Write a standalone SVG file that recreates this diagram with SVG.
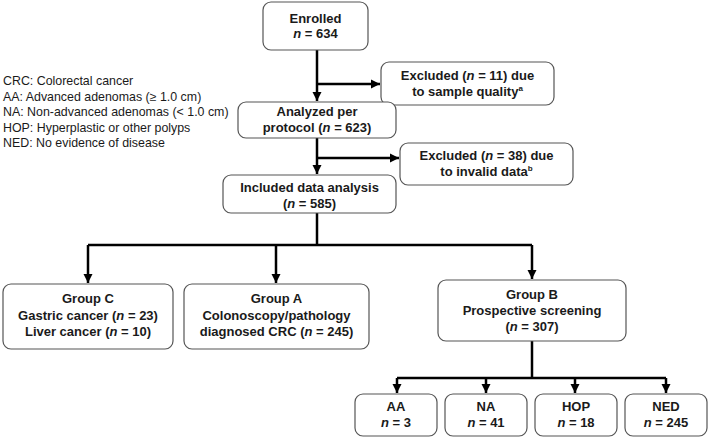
<svg xmlns="http://www.w3.org/2000/svg" width="709" height="438" viewBox="0 0 709 438">
<defs>
<marker id="ah" markerWidth="10" markerHeight="10" refX="9" refY="5" orient="auto" markerUnits="userSpaceOnUse">
<path d="M0,0.5 L9,5 L0,9.5 Z" fill="#000"/>
</marker>
<style>
.box{fill:#fff;stroke:#555;stroke-width:1.2}
.t{font-family:"Liberation Sans",Arial,sans-serif;font-size:13px;font-weight:bold;fill:#1a1a1a;text-anchor:middle}
.lg{font-family:"Liberation Sans",Arial,sans-serif;font-size:12.4px;fill:#1a1a1a}
.c{fill:none;stroke:#000;stroke-width:2.5}
.sup{font-size:8px}
</style>
</defs>
<rect width="709" height="438" fill="#fff"/>
<g id="legend">
<text class="lg" x="3" y="85">CRC: Colorectal cancer</text>
<text class="lg" x="3" y="100.5">AA: Advanced adenomas (≥ 1.0 cm)</text>
<text class="lg" x="3" y="116">NA: Non-advanced adenomas (&lt; 1.0 cm)</text>
<text class="lg" x="3" y="131.5">HOP: Hyperplastic or other polyps</text>
<text class="lg" x="3" y="147">NED: No evidence of disease</text>
</g>
<g id="connectors">
<path class="c" d="M317,50 V101" marker-end="url(#ah)"/>
<path class="c" d="M317,84 H380" marker-end="url(#ah)"/>
<path class="c" d="M317,138 V174" marker-end="url(#ah)"/>
<path class="c" d="M317,158 H399" marker-end="url(#ah)"/>
<path class="c" d="M317,213 V245"/>
<path class="c" d="M88,245 H532"/>
<path class="c" d="M88,245 V283" marker-end="url(#ah)"/>
<path class="c" d="M276,245 V283" marker-end="url(#ah)"/>
<path class="c" d="M532,245 V279" marker-end="url(#ah)"/>
<path class="c" d="M532,341 V378"/>
<path class="c" d="M397,378 H666"/>
<path class="c" d="M397,378 V393" marker-end="url(#ah)"/>
<path class="c" d="M486,378 V393" marker-end="url(#ah)"/>
<path class="c" d="M575,378 V393" marker-end="url(#ah)"/>
<path class="c" d="M666,378 V393" marker-end="url(#ah)"/>
</g>
<g id="enrolled">
<rect class="box" x="263" y="2" width="105" height="48" rx="8"/>
<text class="t" x="315.5" y="23">Enrolled</text>
<text class="t" x="315.5" y="38"><tspan font-style="italic">n</tspan> = 634</text>
</g>
<g id="excluded1">
<rect class="box" x="381" y="62" width="173" height="43" rx="8"/>
<text class="t" x="467.5" y="80">Excluded (<tspan font-style="italic">n</tspan> = 11) due</text>
<text class="t" x="467.5" y="96">to sample quality<tspan class="sup" dy="-5">a</tspan></text>
</g>
<g id="analyzed">
<rect class="box" x="238" y="102" width="158" height="36" rx="8"/>
<text class="t" x="317" y="116">Analyzed per</text>
<text class="t" x="317" y="131.5">protocol (<tspan font-style="italic">n</tspan> = 623)</text>
</g>
<g id="excluded2">
<rect class="box" x="400" y="143" width="173" height="42" rx="8"/>
<text class="t" x="486.5" y="160">Excluded (<tspan font-style="italic">n</tspan> = 38) due</text>
<text class="t" x="486.5" y="176">to invalid data<tspan class="sup" dy="-5">b</tspan></text>
</g>
<g id="included">
<rect class="box" x="223" y="175" width="173" height="38" rx="8"/>
<text class="t" x="309.5" y="192">Included data analysis</text>
<text class="t" x="309.5" y="208">(<tspan font-style="italic">n</tspan> = 585)</text>
</g>
<g id="groupC">
<rect class="box" x="3" y="284" width="170" height="65" rx="8"/>
<text class="t" x="88" y="303">Group C</text>
<text class="t" x="88" y="319.5">Gastric cancer (<tspan font-style="italic">n</tspan> = 23)</text>
<text class="t" x="88" y="336">Liver cancer (<tspan font-style="italic">n</tspan> = 10)</text>
</g>
<g id="groupA">
<rect class="box" x="184" y="284" width="185" height="65" rx="8"/>
<text class="t" x="276.5" y="303">Group A</text>
<text class="t" x="276.5" y="319.5">Colonoscopy/pathology</text>
<text class="t" x="276.5" y="336">diagnosed CRC (<tspan font-style="italic">n</tspan> = 245)</text>
</g>
<g id="groupB">
<rect class="box" x="438" y="280" width="188" height="61" rx="8"/>
<text class="t" x="532" y="298.5">Group B</text>
<text class="t" x="532" y="314.5">Prospective screening</text>
<text class="t" x="532" y="330.5">(<tspan font-style="italic">n</tspan> = 307)</text>
</g>
<g id="AA">
<rect class="box" x="355" y="394" width="82" height="42" rx="8"/>
<text class="t" x="396" y="411">AA</text>
<text class="t" x="396" y="427"><tspan font-style="italic">n</tspan> = 3</text>
</g>
<g id="NA">
<rect class="box" x="445" y="394" width="82" height="42" rx="8"/>
<text class="t" x="486" y="411">NA</text>
<text class="t" x="486" y="427"><tspan font-style="italic">n</tspan> = 41</text>
</g>
<g id="HOP">
<rect class="box" x="535" y="394" width="82" height="42" rx="8"/>
<text class="t" x="576" y="411">HOP</text>
<text class="t" x="576" y="427"><tspan font-style="italic">n</tspan> = 18</text>
</g>
<g id="NED">
<rect class="box" x="625" y="394" width="82" height="42" rx="8"/>
<text class="t" x="666" y="411">NED</text>
<text class="t" x="666" y="427"><tspan font-style="italic">n</tspan> = 245</text>
</g>
</svg>
